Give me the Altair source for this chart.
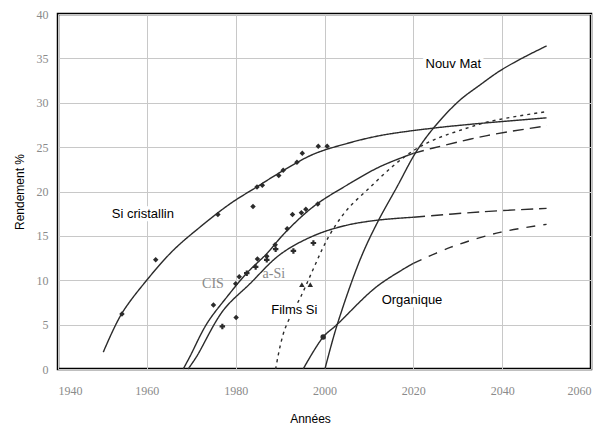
import altair as alt
import pandas as pd

# ---- data ----
si_year = [1950.2, 1954.3, 1960.3, 1966, 1972, 1978.7, 1984.7, 1990.5, 1997.5, 2005, 2012.5, 2023.8, 2033.5, 2050]
si_val = [1.9, 6.2, 10.2, 13.4, 16.0, 18.6, 20.5, 22.3, 24.2, 25.4, 26.3, 27.1, 27.6, 28.3]

cis_year = [1968.2, 1969.7, 1973.5, 1978, 1982.5, 1987, 1991, 1997.5, 2005, 2012.5, 2020]
cis_val = [0.0, 1.4, 5.1, 8.1, 10.8, 13.0, 15.3, 18.3, 20.7, 22.8, 24.3]
cis_f_year = [2020, 2024.5, 2036.6, 2050]
cis_f_val = [24.3, 24.9, 26.3, 27.4]

asi_year = [1969.3, 1971.2, 1977.2, 1983.2, 1990, 1997.5, 2005, 2012.5, 2020]
asi_val = [0.0, 1.4, 6.6, 9.6, 12.9, 15.0, 16.2, 16.8, 17.1]
asi_f_year = [2020, 2035, 2050]
asi_f_val = [17.1, 17.7, 18.1]

films_year = [1989, 1991, 1995, 1997.5, 1999.5, 2001.5, 2005, 2010.3, 2015.5, 2020, 2024.5, 2030, 2037.3, 2050]
films_val = [0.0, 4.4, 8.5, 11.3, 13.5, 15.4, 17.9, 20.5, 22.9, 24.6, 25.8, 26.8, 27.9, 29.0]

org_year = [1995.2, 1999.7, 2002.8, 2011.8, 2020]
org_val = [0.0, 3.6, 5.0, 9.3, 11.9]
org_f_year = [2020, 2028.3, 2039.5, 2050]
org_f_val = [11.9, 13.7, 15.4, 16.3]

nouv_year = [2000.1, 2002.8, 2008, 2011.8, 2016.3, 2020.8, 2025.3, 2030.5, 2035, 2039.5, 2044.8, 2050]
nouv_val = [0.0, 4.9, 12.3, 16.4, 20.5, 24.6, 27.6, 30.3, 32.0, 33.6, 35.1, 36.4]

diam_year = [1954.4, 1962, 1976, 1983.9, 1984.8, 1986, 1989.7, 1990.7, 1993.8, 1995, 1998.6, 2000.6,
             1975, 1980, 1980.8, 1984.9, 1987, 1988.9, 1991.6, 1992.8, 1994.8, 1995.8, 1998.5, 1980.1]
diam_val = [6.2, 12.3, 17.4, 18.3, 20.5, 20.7, 21.8, 22.4, 23.3, 24.3, 25.1, 25.1,
            7.2, 9.6, 10.4, 12.4, 12.7, 14.0, 15.8, 17.4, 17.6, 18.0, 18.6, 5.8]
cross_year = [1977, 1982.5, 1984.5, 1987, 1989, 1993, 1997.5]
cross_val = [4.8, 10.8, 11.5, 12.3, 13.5, 13.3, 14.2]
tri_year = [1994.9, 1996.8]
tri_val = [9.5, 9.5]
circ_year = [1999.7]
circ_val = [3.6]

labels = ["Si cristallin", "Films Si", "Organique", "Nouv Mat"]
label_year = [1959.1, 1993.2, 2019.7, 2029]
label_val = [17.5, 6.6, 7.8, 34.4]
serif_labels = ["CIS", "a-Si"]
serif_year = [1974.9, 1988.6]
serif_val = [9.6, 10.7]

x_ticks = [1940, 1960, 1980, 2000, 2020, 2040, 2060]
y_ticks = [0, 5, 10, 15, 20, 25, 30, 35, 40]

# ---- tables ----
segs = [
    ("si", si_year, si_val),
    ("cis", cis_year, cis_val),
    ("cis_f", cis_f_year, cis_f_val),
    ("asi", asi_year, asi_val),
    ("asi_f", asi_f_year, asi_f_val),
    ("films", films_year, films_val),
    ("org", org_year, org_val),
    ("org_f", org_f_year, org_f_val),
    ("nouv", nouv_year, nouv_val),
]
rows = []
for name, ys, vs in segs:
    for i, (y, v) in enumerate(zip(ys, vs)):
        rows.append({"year": y, "val": v, "seg": name, "o": i})
lines = pd.DataFrame(rows)

seg_dom = [s[0] for s in segs]
dash_rng = [[1, 0], [1, 0], [11, 6], [1, 0], [12, 6], [3, 4], [1, 0], [9, 8], [1, 0]]
width_rng = [1.4, 1.4, 2.0, 1.4, 2.0, 1.5, 1.6, 3.5, 1.3]

pts = pd.DataFrame(
    [{"year": y, "val": v, "k": "diamond"} for y, v in zip(diam_year, diam_val)]
    + [{"year": y, "val": v, "k": "cross"} for y, v in zip(cross_year, cross_val)]
    + [{"year": y, "val": v, "k": "triangle-up"} for y, v in zip(tri_year, tri_val)]
    + [{"year": y, "val": v, "k": "circle"} for y, v in zip(circ_year, circ_val)]
)
lab = pd.DataFrame({"t": labels, "year": label_year, "val": label_val})
slab = pd.DataFrame({"t": serif_labels, "year": serif_year, "val": serif_val})

xs = alt.Scale(domain=[1940, 2060], nice=False)
ys_ = alt.Scale(domain=[0, 40], nice=False)

X = alt.X("year:Q", scale=xs, title="Années",
          axis=alt.Axis(values=x_ticks, format="d", grid=True, ticks=False, domain=False,
                        labelColor="#8a8a8a", labelFont="Liberation Sans Narrow", labelFontSize=12,
                        labelPadding=16, titlePadding=17, titleFont="Liberation Sans",
                        titleFontSize=12, titleFontWeight="normal", titleColor="#000",
                        titleX=252, gridColor="#c8c8c8", gridWidth=1))
Y = alt.Y("val:Q", scale=ys_, title="Rendement %",
          axis=alt.Axis(values=y_ticks, grid=True, ticks=False, domain=False,
                        labelColor="#8a8a8a", labelFont="Liberation Sans Narrow", labelFontSize=12,
                        labelPadding=10, titlePadding=10, titleFont="Liberation Sans",
                        titleFontSize=12, titleFontWeight="normal", titleColor="#000",
                        gridColor="#c8c8c8", gridWidth=1))

line_layer = alt.Chart(lines).mark_line(interpolate="catmull-rom", color="#2b2b2b").encode(
    x=X, y=Y,
    detail="seg:N",
    order="o:Q",
    strokeDash=alt.StrokeDash("seg:N", scale=alt.Scale(domain=seg_dom, range=dash_rng), legend=None),
    strokeWidth=alt.StrokeWidth("seg:N", scale=alt.Scale(domain=seg_dom, range=width_rng), legend=None),
)

pt_layer = alt.Chart(pts).mark_point(filled=True, color="#2b2b2b", size=30, opacity=1).encode(
    x="year:Q", y="val:Q",
    shape=alt.Shape("k:N", scale=alt.Scale(domain=["diamond", "cross", "triangle-up", "circle"],
                                            range=["diamond", "cross", "triangle-up", "circle"]),
                    legend=None),
)

halo = alt.Chart(lab).mark_text(font="Liberation Sans", fontSize=13, stroke="white", strokeWidth=7,
                                color="white", strokeJoin="round").encode(x="year:Q", y="val:Q", text="t:N")
txt = alt.Chart(lab).mark_text(font="Liberation Sans", fontSize=13, color="#000").encode(
    x="year:Q", y="val:Q", text="t:N")
stxt = alt.Chart(slab).mark_text(font="Liberation Serif", fontSize=14, color="#8a8a8a").encode(
    x="year:Q", y="val:Q", text="t:N")

chart = alt.layer(line_layer, pt_layer, halo, txt, stxt).properties(
    width=533, height=355,
    autosize=alt.AutoSizeParams(type="none"),
    padding={"left": 58, "top": 14, "right": 23, "bottom": 56},
    background="white",
).configure_view(stroke="#000", strokeWidth=2.5)

chart.save("out.html", embed_options={"renderer": "svg", "actions": False})
